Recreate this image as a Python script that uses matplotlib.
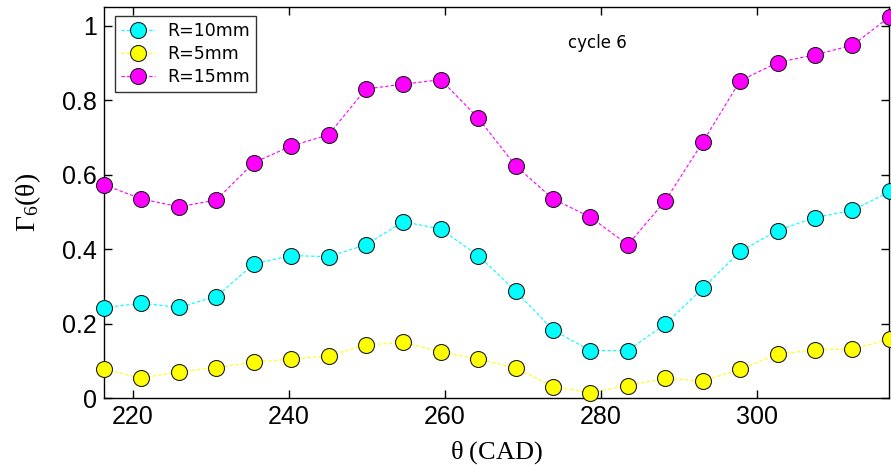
import matplotlib
matplotlib.use("Agg")
import matplotlib.pyplot as plt

# crank angle positions (CAD)
theta = [216.3, 221.1, 225.9, 230.7, 235.5, 240.3, 245.1, 249.9, 254.7, 259.5, 264.3,
         269.1, 273.9, 278.7, 283.5, 288.3, 293.1, 297.9, 302.7, 307.5, 312.3, 317.1]

# Gamma_6 for each radius
g_r10 = [0.243, 0.255, 0.244, 0.273, 0.360, 0.383, 0.380, 0.412, 0.474, 0.454, 0.383,
         0.288, 0.183, 0.128, 0.128, 0.199, 0.295, 0.394, 0.450, 0.485, 0.504, 0.555]
g_r5 = [0.078, 0.054, 0.071, 0.082, 0.097, 0.105, 0.114, 0.143, 0.150, 0.125, 0.105,
        0.082, 0.031, 0.015, 0.034, 0.054, 0.046, 0.078, 0.118, 0.130, 0.132, 0.159]
g_r15 = [0.573, 0.535, 0.514, 0.532, 0.632, 0.677, 0.707, 0.830, 0.843, 0.855, 0.752,
         0.624, 0.535, 0.486, 0.412, 0.530, 0.687, 0.852, 0.901, 0.922, 0.947, 1.024]

series = [("R=10mm", g_r10, "#00ffff"),
          ("R=5mm", g_r5, "#ffff00"),
          ("R=15mm", g_r15, "#ff00ff")]

plt.rcParams["mathtext.fontset"] = "custom"
plt.rcParams["mathtext.rm"] = "Liberation Serif"
plt.rcParams["mathtext.it"] = "Liberation Serif:italic"

fig = plt.figure(figsize=(8.91, 4.68), dpi=100)
ax = fig.add_axes([0.1167, 0.149, 0.8811, 0.836])

for label, vals, col in series:
    ax.plot(theta, vals, linestyle=(0, (3, 2)), linewidth=0.8, color=col,
            marker="o", markersize=11.5, markerfacecolor=col,
            markeredgecolor="#202020", markeredgewidth=0.8,
            label=label, clip_on=False, zorder=3)

ax.set_xlim(216.3, 317.0)
ax.set_ylim(0, 1.05)
ax.set_xticks([220, 240, 260, 280, 300])
ax.set_yticks([0, 0.2, 0.4, 0.6, 0.8, 1.0])
ax.set_yticklabels(["0", "0.2", "0.4", "0.6", "0.8", "1"])
ax.tick_params(direction="in", top=True, right=True, length=6, width=1,
               labelsize=18, pad=5)
for lbl in ax.get_xticklabels() + ax.get_yticklabels():
    lbl.set_family("Liberation Sans")
for sp in ax.spines.values():
    sp.set_linewidth(1.0)

ax.set_xlabel(r"$\mathrm{\theta\ (CAD)}$", fontsize=19, labelpad=7)
ax.set_ylabel(r"$\mathrm{\Gamma}_{\mathit{6}}\mathrm{(\theta)}$", fontsize=20, labelpad=14)

ax.text(0.628, 0.907, "cycle 6", transform=ax.transAxes, fontsize=12,
        family="DejaVu Sans", ha="center", va="center")

leg = ax.legend(loc="upper left", bbox_to_anchor=(0.0136, 0.978),
                prop={"family": "DejaVu Sans", "size": 12.5},
                frameon=True, fancybox=False, borderpad=0.35, labelspacing=0.3,
                handlelength=2.0, handletextpad=0.7, borderaxespad=0)
leg.get_frame().set_edgecolor("black")
leg.get_frame().set_linewidth(1.0)

fig.savefig("out.png", dpi=100)
